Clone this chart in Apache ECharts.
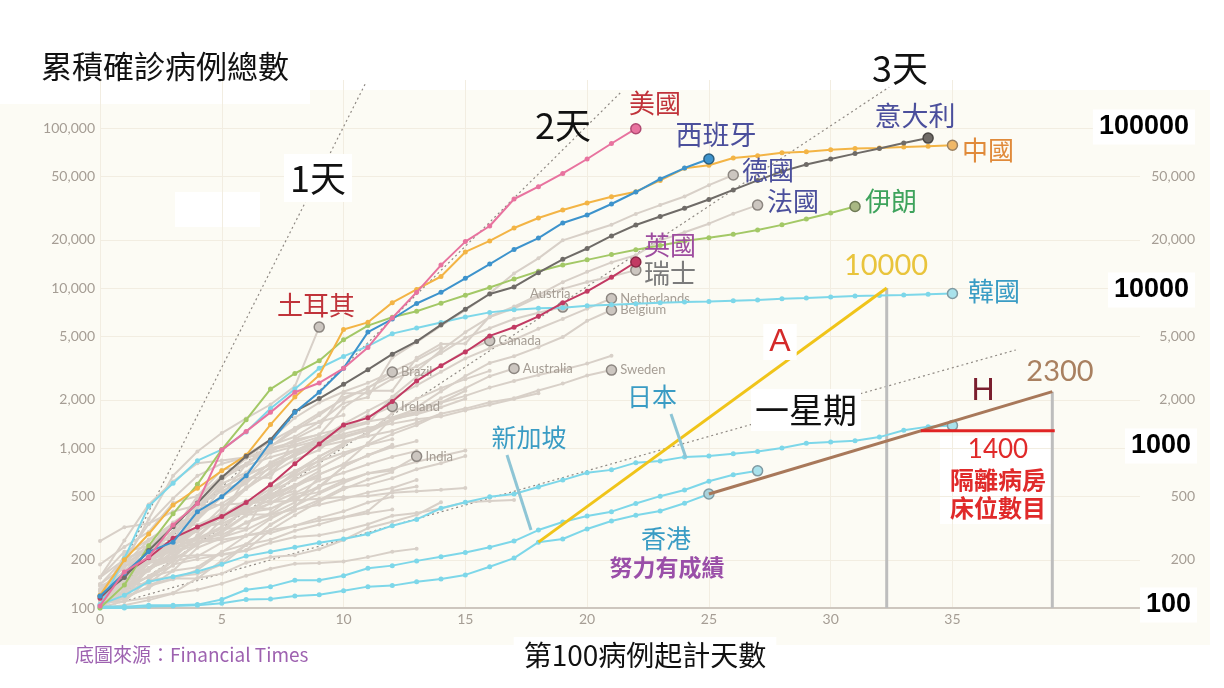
<!DOCTYPE html>
<html>
<head>
<meta charset="utf-8">
<script src="https://cdn.jsdelivr.net/npm/echarts@6.0.0/dist/echarts.min.js"></script>
<style>
html,body{margin:0;padding:0;background:#fff}
#main{width:1224px;height:688px}
</style>
</head>
<body>
<div id="main"></div>
<script>
// 累積確診病例 (第100例起計, 每日一點)
var usa = [103,168,208,330,450,970,1270,1670,2230,2550,3150,4250,6500,9400,13900,19500,24400,36000,43000,52000,64000,80000,99000];
var spain = [119,165,225,258,400,495,670,1090,1670,2230,3150,5300,6400,8000,9400,11500,14100,17400,20500,25500,28600,33500,39800,48000,56200,64000];
var italy = [118,155,229,322,453,655,888,1128,1694,2036,2502,3089,3858,4636,5883,7375,9172,10149,12462,15113,17660,21157,24747,27980,31506,35713,41035,47021,53578,59138,63927,69176,74386,80589,86498];
var china = [120,200,290,440,560,720,900,1400,2080,2850,5500,6100,8100,9800,11800,16800,19700,23700,27400,30700,34000,37200,40000,47000,56000,58500,65000,67000,70000,71000,73000,74500,75000,76000,77000,78000];
var iran = [100,139,245,388,593,978,1501,2336,2922,3513,4747,5823,6566,7161,8042,9000,10075,11364,12729,13938,14991,16169,17361,18407,19644,20610,21638,23049,24811,27017,29406,32332];
var uk = [115,163,206,273,321,373,456,590,797,1061,1391,1543,1950,2626,3269,3983,5018,5683,6650,8077,9529,11658,14543];
var korea = [104,204,433,602,833,977,1261,1766,2337,3150,3736,4335,5186,5621,6088,6593,7041,7314,7478,7513,7755,7869,7979,8086,8162,8236,8320,8413,8565,8652,8799,8897,8961,9037,9137,9241];
var japan = [105,120,146,157,169,188,211,225,240,256,270,290,327,358,420,458,495,516,570,630,700,730,810,830,880,890,920,950,1000,1070,1090,1110,1170,1290,1360,1380];
var singapore = [102,102,104,104,105,113,130,136,149,149,159,177,184,197,209,222,240,262,307,345,376,400,450,500,546,620,680,720];
var hongkong = [100,100,102,103,104,107,113,114,119,121,128,136,138,146,152,161,181,205,258,270,312,350,380,404,452,516];

// 灰色國家 (有標示)
var germany = [130,159,196,262,482,670,799,1040,1176,1457,1908,2078,3675,4585,5795,7272,9257,12327,15320,19848,22213,24873,29056,32986,37323,43938,50871];
var france = [100,130,191,204,285,377,653,949,1126,1209,1784,2281,2281,3661,4469,4499,6633,7652,9043,10871,12612,14459,16018,19856,22304,25233,29155,32964];
var swiss = [114,214,268,337,374,491,652,652,1139,1359,2200,2200,2700,3028,4075,5294,6575,7474,8795,9877,10897,11811,12928];
var turkey = [110,190,360,670,950,1240,1530,1870,2430,5700];
var austria = [130,180,250,300,500,650,860,1020,1330,1650,2010,2390,2810,3240,3920,4880,5600,6400,7000,7600];
var netherlands = [128,188,265,321,382,503,614,804,959,1135,1413,1705,2051,2460,2994,3631,4204,4749,5560,6412,7431,8603];
var belgium = [109,169,200,239,267,314,314,559,689,886,1058,1243,1486,1795,2257,2815,3401,3743,4269,4937,6235,7284];
var canada = [103,117,176,244,304,424,569,690,846,971,1302,1430,2088,2790,3251,4042,4682];
var brazil = [121,200,234,291,428,621,904,1128,1546,1924,2247,2554,2985];
var australia = [107,128,158,197,249,297,377,452,568,681,791,1071,1549,1682,2044,2364,2810,3143];
var sweden = [137,161,203,248,355,500,599,814,961,1022,1103,1190,1279,1439,1639,1763,1934,2046,2286,2526,2840,3069];
var ireland = [129,169,223,292,366,557,683,785,906,1125,1329,1564,1819];
var india = [107,114,137,151,173,223,283,360,434,519,606,694,724,887];

// 其他灰線
var others = [
  [113,147,176,205,400,598,702,996,1090,1221,1333,1463,1550,1746,1914,2118,2385,2621,2863,3084,3369,3771],
  [156,264,444,617,804,836,875,933,1024,1115,1225,1337,1420,1514,1572,1718,1862,2023,2201],
  [112,169,245,331,448,642,785,1020,1280,1600,2060,2362,2995,3544,4268],
  [129,149,197,238,428,566,673,790,900,1030,1183,1306,1518,1624,1796,2031],
  [100,126,178,200,250,304,427,529,712,883,1071,1238,1656,2030,2369,2693,3035],
  [116,150,214,298,383,450,560,765,889,1047,1161,1287,1497,1654,1925,2279],
  [262,320,337,401,439,442,452,460,470,481,494,501,526,537,549,562],
  [109,110,195,210,214,214,228,256,278,285,305,334,377,392,419,458,466,473],
  [117,138,156,171,180,225,250,330,409,473,568,588,648,737,802,890],
  [117,190,228,331,331,387,418,418,495,530,624,695,743,821,892,966],
  [155,225,244,277,321,336,400,450,523,626,700,792,880,958],
  [104,125,177,238,251,355,425,536,634,749,901,1051,1221,1389,1638],
  [155,201,238,342,434,537,632,746,922,1142,1306,1610],
  [140,203,335,484,670,798,875,1099,1333,1453,1605],
  [111,168,199,260,367,506,789,981,1049,1173,1211],
  [114,147,177,212,272,322,411,599,721,827,934,1045,1136],
  [187,241,299,454,501,730,776,875,972,1063,1201],
  [103,118,133,171,238,274,344,392,511,562,767,900,1012,1104],
  [141,181,219,253,275,286,341,383,414,442,480,528,562,632],
  [123,131,158,184,260,277,308,367,433,576,762,906,1029],
  [115,171,205,225,258,267,283,306,326,352,369,404,538,575],
  [111,140,142,187,202,217,230,307,380,462,552,636,707],
  [117,134,172,227,311,369,450,514,579,686,790,893,1046],
  [109,110,150,196,210,256,285,294,327,366,402,456,495],
  [114,147,199,253,306,367,438,495,658,840,1036],
  [117,145,234,263,318,363,395,416,480,580,635],
  [118,164,203,251,316,367,405,475,585,717],
  [109,137,200,245,313,345,443,558,674,786],
  [116,150,202,240,274,402,554,709,927,1170],
  [105,128,206,254,315,382,442,495,586,657],
  [128,158,225,266,301,387,387,502,589],
  [102,128,196,231,277,378,470,491,539],
  [103,135,171,222,249,303,384,384,457,659],
  [101,110,116,124,154,164,192,208,214,233,266,316,346,382,458],
  [110,124,149,157,163,187,248,267,304,333,368,391,412],
  [100,104,112,123,130,142,159,176,189,191,195,208,225,235],
  [113,140,140,153,153,198,248,333,405]
];

// 倍增參考線 [天, 病例]
var double1 = [[0,100],[10.9,190000]];
var double2 = [[0,100],[21.4,168000]];
var double3 = [[0,100],[32.4,180000]];
var doubleWeek = [[0,100],[37.6,4100]];

// 香港推算線
var lineA = [[18,258],[32.3,10000]];
var lineH = [[25,516],[39.1,2250]];
var dropA = [[32.3,100],[32.3,10000]];
var dropH = [[39.1,100],[39.1,2250]];
var bedLine = [[33.7,1280],[39.2,1280]];

var xTicks = [0,5,10,15,20,25,30,35];
var yTicksLeft = [100,200,500,1000,2000,5000,10000,20000,50000,100000];
var yTicksRight = [200,500,2000,5000,20000,50000];

var LG = Math.log10;
var GRAY = '#d8d0c8';
var CYAN = '#7dd7e9';
var LBL = '#a59d94';
var CJK = '"Noto Sans CJK TC", "Noto Sans", sans-serif';

function pts(vals) {
  return vals.map(function(v, i){ return [i, LG(v)]; });
}
function pairs(arr) {
  return arr.map(function(p){ return [p[0], LG(p[1])]; });
}

function mk(name, vals, color, o) {
  o = o || {};
  var data = pts(vals);
  if (o.end) {
    var k = data.length - 1;
    data[k] = {
      value: data[k],
      symbolSize: 10,
      itemStyle: {color: o.endFill || color, borderColor: o.endBorder || '#8c8680', borderWidth: 1.5}
    };
    if (o.label) data[k].label = o.label;
  }
  return {
    type: 'line', name: name, data: data, z: o.z || 3,
    symbol: 'circle', symbolSize: o.dot || 5, showSymbol: true,
    lineStyle: {color: color, width: o.width || 2},
    itemStyle: {color: color},
    silent: true, emphasis: {disabled: true}
  };
}

function grayLbl(text, pos) {
  return {show: true, formatter: text, position: pos || 'right', distance: 3,
    color: LBL, fontSize: 13, fontFamily: 'Lato, sans-serif'};
}

function seg(arr, color, width, dash, z) {
  return {
    type: 'line', data: pairs(arr), symbol: 'none', z: z || 4, silent: true,
    lineStyle: {color: color, width: width, type: dash || 'solid'},
    emphasis: {disabled: true}
  };
}

var series = [];
others.forEach(function(v, i){ series.push(mk('o' + i, v, GRAY, {dot: 4, z: 2})); });

var grayEnd = {endFill: '#ccc6c0', endBorder: '#8c8680', dot: 4, z: 2, end: true};
function g(name, vals, label) {
  var o = Object.assign({}, grayEnd);
  o.label = label;
  series.push(mk(name, vals, GRAY, o));
}
g('德國', germany);
g('法國', france);
g('瑞士', swiss);
g('土耳其', turkey);
g('Austria', austria, grayLbl('Austria', [-27, -14]));
g('Netherlands', netherlands, grayLbl('Netherlands'));
g('Belgium', belgium, grayLbl('Belgium'));
g('Canada', canada, grayLbl('Canada'));
g('Brazil', brazil, grayLbl('Brazil'));
g('Australia', australia, grayLbl('Australia'));
g('Sweden', sweden, grayLbl('Sweden'));
g('Ireland', ireland, grayLbl('Ireland'));
g('India', india, grayLbl('India'));

series.push(mk('香港', hongkong, CYAN, {end: true, endFill: '#a9d3dc', endBorder: '#7f9aa2', z: 5}));
series.push(mk('新加坡', singapore, CYAN, {end: true, endFill: '#a9e2ec', endBorder: '#7f9aa2', z: 5}));
series.push(mk('日本', japan, CYAN, {end: true, endFill: '#a9e2ec', endBorder: '#7f9aa2', z: 5}));
series.push(mk('韓國', korea, CYAN, {end: true, endFill: '#a9e2ec', endBorder: '#7f9aa2', z: 5}));
series.push(mk('英國', uk, '#c23a63', {end: true, endBorder: '#8a2745', z: 6}));
series.push(mk('伊朗', iran, '#a3c866', {end: true, endFill: '#a9b884', endBorder: '#6e7a55', z: 6}));
series.push(mk('中國', china, '#f3b445', {end: true, endFill: '#f0b867', endBorder: '#9a8060', z: 6}));
series.push(mk('意大利', italy, '#6f6b67', {end: true, endBorder: '#4a4744', z: 7}));
series.push(mk('西班牙', spain, '#3d93cc', {end: true, endBorder: '#2c5f80', z: 7}));
series.push(mk('美國', usa, '#e8739f', {end: true, endBorder: '#b04a72', z: 8}));

// 參考線
var DOT = [2, 3];
series.push(seg(double1, '#8f8983', 1.2, DOT, 1));
series.push(seg(double2, '#8f8983', 1.2, DOT, 1));
series.push(seg(double3, '#8f8983', 1.2, DOT, 1));
series.push(seg(doubleWeek, '#8f8983', 1.2, DOT, 1));

series.push(seg(dropA, '#bdbdbd', 3));
series.push(seg(dropH, '#bdbdbd', 3));
series.push(seg(lineA, '#f0c419', 3, 'solid', 9));
series.push(seg(lineH, '#a8785a', 3, 'solid', 9));
series.push(seg(bedLine, '#e02424', 3, 'solid', 9));

function txt(text, x, y, size, color, extra) {
  var st = {text: text, x: x, y: y, fill: color,
    font: (extra && extra.weight ? extra.weight + ' ' : '') + size + 'px ' + (extra && extra.family ? extra.family : CJK),
    align: (extra && extra.align) || 'center', verticalAlign: 'middle'};
  if (extra && extra.bg) { st.backgroundColor = extra.bg; st.padding = extra.pad || [2, 4]; }
  return {type: 'text', z: 100, style: st, silent: true};
}

var INDIGO = '#4b4f9c';
var graphic = [
  {type: 'rect', z: -100, shape: {x: 0, y: 90, width: 1210, height: 555}, style: {fill: '#fcfbf4'}, silent: true},
  {type: 'rect', z: -90, shape: {x: 0, y: 88, width: 310, height: 16}, style: {fill: '#ffffff'}, silent: true},
  {type: 'rect', z: -90, shape: {x: 175, y: 192, width: 85, height: 35}, style: {fill: '#ffffff'}, silent: true},
  {type: 'rect', z: -90, shape: {x: 940, y: 436, width: 112, height: 88}, style: {fill: '#ffffff'}, silent: true},
  {type: 'line', z: 90, shape: {x1: 671, y1: 414, x2: 686, y2: 458}, style: {stroke: '#8ec5d5', lineWidth: 3}, silent: true},
  {type: 'line', z: 90, shape: {x1: 507, y1: 455, x2: 531, y2: 530}, style: {stroke: '#8ec5d5', lineWidth: 3}, silent: true},

  txt('累積確診病例總數', 165, 66, 31, '#111'),
  txt('第100病例起計天數', 645, 655, 28, '#111', {bg: '#fff', pad: [4, 10]}),
  txt('底圖來源：Financial Times', 75, 655, 19, '#9e62b0', {align: 'left'}),

  txt('1天', 318, 178, 36, '#111', {bg: '#fff', pad: [6, 6]}),
  txt('2天', 563, 125, 36, '#111'),
  txt('3天', 900, 68, 36, '#111'),
  txt('一星期', 806, 410, 34, '#111', {bg: '#fff', pad: [4, 4]}),

  txt('美國', 655, 103, 26, '#c0333a'),
  txt('西班牙', 716, 135, 27, INDIGO),
  txt('意大利', 915, 116, 27, INDIGO),
  txt('中國', 988, 150, 26, '#e08a3a'),
  txt('德國', 768, 170, 26, INDIGO),
  txt('法國', 793, 201, 26, INDIGO),
  txt('伊朗', 891, 201, 26, '#3ea35c'),
  txt('英國', 670, 245, 26, '#9d4c9f'),
  txt('瑞士', 670, 273, 26, '#7b7b7b'),
  txt('土耳其', 316, 305, 26, '#c0333a'),
  txt('韓國', 994, 291, 26, '#3a9cc4'),
  txt('日本', 652, 396, 25, '#3a9cc4'),
  txt('新加坡', 529, 437, 25, '#3a9cc4'),
  txt('香港', 666, 538, 25, '#3a9cc4'),
  txt('努力有成績', 667, 567, 23, '#9a4fa8', {weight: 'bold'}),

  txt('A', 780, 342, 32, '#d42a2a', {family: '"Liberation Sans", sans-serif', bg: '#fff', pad: [2, 6]}),
  txt('10000', 886, 266, 29, '#e9c43c', {family: 'Lato, sans-serif'}),
  txt('H', 983, 391, 32, '#7a1e2e', {family: '"Liberation Sans", sans-serif'}),
  txt('2300', 1060, 372, 29, '#a98060', {family: 'Lato, sans-serif'}),
  txt('1400', 998, 450, 26, '#e02a2a', {family: 'Lato, sans-serif'}),
  txt('隔離病房', 998, 480, 24, '#e02a2a', {weight: 'bold'}),
  txt('床位數目', 998, 508, 24, '#e02a2a', {weight: 'bold'}),

  txt('100000', 1195, 127, 27, '#000', {weight: 'bold', family: '"Liberation Sans", sans-serif', align: 'right', bg: '#fff', pad: [4, 6]}),
  txt('10000', 1195, 290, 27, '#000', {weight: 'bold', family: '"Liberation Sans", sans-serif', align: 'right', bg: '#fff', pad: [4, 6]}),
  txt('1000', 1197, 446, 27, '#000', {weight: 'bold', family: '"Liberation Sans", sans-serif', align: 'right', bg: '#fff', pad: [4, 6]}),
  txt('100', 1197, 605, 27, '#000', {weight: 'bold', family: '"Liberation Sans", sans-serif', align: 'right', bg: '#fff', pad: [4, 6]})
];

function fmtNum(v) {
  return Math.round(Math.pow(10, v)).toLocaleString('en-US');
}

var chart = echarts.init(document.getElementById('main'));
chart.setOption({
  animation: false,
  backgroundColor: '#ffffff',
  grid: {left: 100, right: 84, top: 80, bottom: 80},
  xAxis: {
    type: 'value', min: 0, max: 42.7,
    axisLine: {lineStyle: {color: '#cdc6be', width: 2}},
    axisTick: {show: false, customValues: xTicks},
    axisLabel: {customValues: xTicks, color: LBL, fontSize: 14, margin: 4, fontFamily: 'Lato, sans-serif'},
    splitLine: {show: true, lineStyle: {color: '#f2ede1', width: 1}}
  },
  yAxis: [{
    type: 'value', min: 2, max: 5.3,
    axisLine: {show: false},
    axisTick: {show: false, customValues: yTicksLeft.map(LG)},
    axisLabel: {customValues: yTicksLeft.map(LG), formatter: fmtNum, color: LBL, fontSize: 14, margin: 5, fontFamily: 'Lato, sans-serif'},
    splitLine: {show: true, lineStyle: {color: '#f2ede1', width: 1}}
  }, {
    type: 'value', min: 2, max: 5.3, position: 'right',
    axisLine: {show: false},
    axisTick: {show: false, customValues: yTicksRight.map(LG)},
    axisLabel: {customValues: yTicksRight.map(LG), formatter: fmtNum, color: LBL, fontSize: 14, margin: 55, align: 'right', fontFamily: 'Lato, sans-serif'},
    splitLine: {show: false}
  }],
  graphic: graphic,
  series: series
});
</script>
</body>
</html>
